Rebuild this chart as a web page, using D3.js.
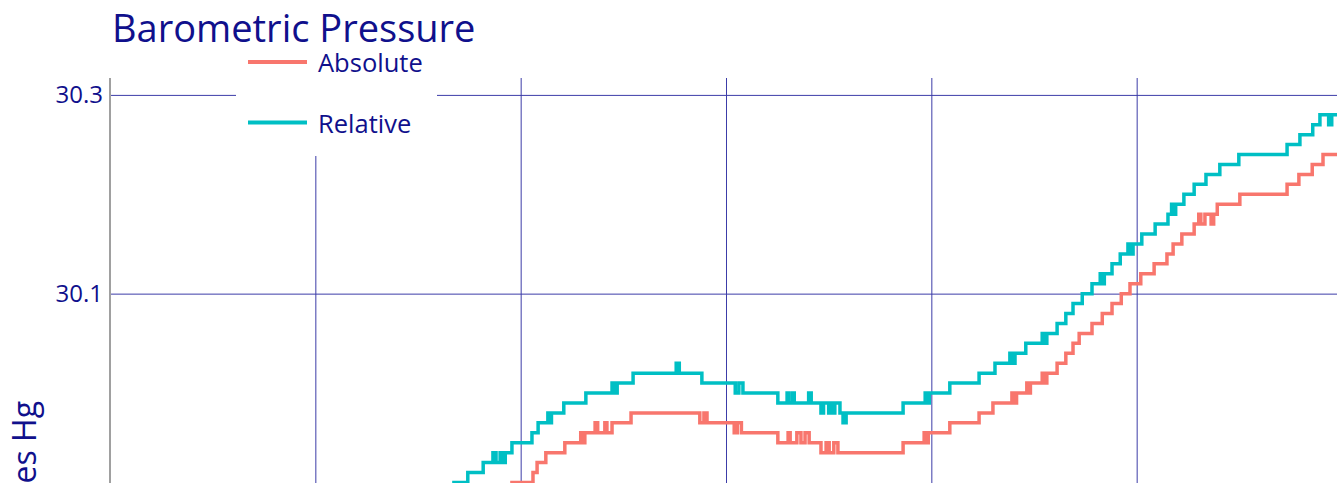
<!DOCTYPE html>
<html>
<head>
<meta charset="utf-8">
<script src="https://cdn.jsdelivr.net/npm/d3@7"></script>
<style>
body { margin:0; overflow:hidden; background:#ffffff; }
</style>
</head>
<body>
<div id="chart"></div>
<script>
//colors
var textColor = "#10108c";
var gridColor = "#3c3ca8";
var axisColor = "#a0a0a0";

// series names and colours for the legend
var seriesNames = ["Absolute", "Relative"];
var seriesColors = ["#F8766D", "#00BFC4"];

// y ticks (inches Hg) and x grid ticks (hours)
var yTicks = [30.1, 30.3];
var xTicks = [4, 8, 12, 16, 20, 24];

// relative pressure, step changes: hour, value
var relTime = [0,0.8,1.5,2.3,3.0,3.8,4.5,5.1,5.6,6.0,6.3,
    6.70,6.97,7.27,7.46,7.52,7.60,7.64,7.70,7.83,8.22,8.34,8.53,8.55,8.60,8.84,9.27,9.78,9.82,9.88,10.19,
    11.03,11.09,11.53,12.18,12.25,12.33,13.01,13.19,13.23,13.30,13.33,13.61,13.66,13.85,13.90,14.00,14.05,
    14.08,14.12,14.22,14.28,14.34,15.45,15.88,15.92,15.96,16.36,16.93,17.24,17.53,17.58,17.63,17.84,18.16,
    18.20,18.25,18.45,18.62,18.76,18.94,19.13,19.29,19.33,19.37,19.52,19.68,19.83,19.88,19.93,20.10,20.36,
    20.61,20.68,20.72,20.76,20.92,21.12,21.35,21.62,21.99,22.93,23.18,23.43,23.57,23.74,23.80,24];
var relValue = [29.66,29.69,29.71,29.74,29.77,29.80,29.83,29.85,29.87,29.89,29.90,
    29.91,29.92,29.93,29.94,29.93,29.94,29.93,29.94,29.95,29.96,29.97,29.98,29.97,29.98,29.99,30.00,30.01,30.00,30.01,30.02,
    30.03,30.02,30.01,30.00,30.01,30.00,29.99,30.00,29.99,30.00,29.99,30.00,29.99,29.98,29.99,29.98,29.99,
    29.98,29.99,29.98,29.97,29.98,29.99,30.00,29.99,30.00,30.01,30.02,30.03,30.04,30.03,30.04,30.05,30.06,
    30.05,30.06,30.07,30.08,30.09,30.10,30.11,30.12,30.11,30.12,30.13,30.14,30.15,30.14,30.15,30.16,30.17,
    30.18,30.19,30.18,30.19,30.20,30.21,30.22,30.23,30.24,30.25,30.26,30.27,30.28,30.27,30.28,30.28];

// absolute pressure, step changes: hour, value
var absTime = [0,0.9,1.7,2.5,3.3,4.1,4.9,5.6,6.2,6.8,7.3,7.6,
    7.83,8.24,8.32,8.49,8.86,9.17,9.21,9.25,9.45,9.50,9.64,9.68,9.78,10.15,11.49,11.57,11.63,12.16,12.22,12.30,
    13.01,13.21,13.25,13.38,13.46,13.54,13.62,13.85,13.95,14.01,14.10,14.18,15.45,15.86,15.90,15.94,16.36,
    16.93,17.20,17.57,17.61,17.66,17.86,17.89,17.93,18.16,18.20,18.25,18.45,18.62,18.76,18.88,19.13,19.33,
    19.52,19.70,19.87,20.08,20.34,20.59,20.71,20.88,21.12,21.21,21.25,21.33,21.45,21.50,21.57,22.01,22.93,
    23.16,23.42,23.63,24];
var absValue = [29.62,29.65,29.67,29.70,29.73,29.76,29.79,29.82,29.84,29.87,29.89,29.90,
    29.91,29.92,29.93,29.94,29.95,29.96,29.95,29.96,29.97,29.96,29.97,29.96,29.97,29.98,29.97,29.98,29.97,29.96,29.97,29.96,
    29.95,29.96,29.95,29.96,29.95,29.96,29.95,29.94,29.95,29.94,29.95,29.94,29.95,29.96,29.95,29.96,29.97,
    29.98,29.99,30.00,29.99,30.00,30.01,30.00,30.01,30.02,30.01,30.02,30.03,30.04,30.05,30.06,30.07,30.08,
    30.09,30.10,30.11,30.12,30.13,30.14,30.15,30.16,30.17,30.18,30.17,30.18,30.17,30.18,30.19,30.20,30.21,
    30.22,30.23,30.24,30.24];

function drawChart(){
    var w = 1400;
    var h = 960;
    var left = 110, right = 1342, top = 78, bottom = 870;

    var svg = d3.select("#chart")
                .append("svg")
                .attr("width", w)
                .attr("height", h)
                .style("font-family", "'Open Sans', sans-serif");

    var x = d3.scaleLinear().domain([0, 24]).range([left, right]);
    var y = d3.scaleLinear().domain([29.52, 30.317]).range([bottom, top]);

    //horizontal grid + y tick labels
    var yAxis = svg.append("g")
                .attr("transform", "translate(" + left + ",0)")
                .call(d3.axisLeft(y)
                        .tickValues(yTicks)
                        .tickSize(-(right - left))
                        .tickPadding(7)
                        .tickFormat(d3.format(".1f")));
    yAxis.select(".domain").remove();
    yAxis.selectAll("line").attr("stroke", gridColor).attr("stroke-width", 1);
    yAxis.selectAll("text")
        .attr("fill", textColor)
        .style("font-size", "24px")
        .style("font-family", "'Open Sans', sans-serif");

    //vertical grid
    var xAxis = svg.append("g")
                .attr("transform", "translate(0," + top + ")")
                .call(d3.axisTop(x)
                        .tickValues(xTicks)
                        .tickSize(-(bottom - top))
                        .tickFormat(""));
    xAxis.select(".domain").remove();
    xAxis.selectAll("line").attr("stroke", gridColor).attr("stroke-width", 1);

    //left axis line
    svg.append("line")
        .attr("x1", x(0)).attr("x2", x(0))
        .attr("y1", top).attr("y2", bottom)
        .attr("stroke", axisColor)
        .attr("stroke-width", 2);

    //series
    var line = d3.line()
                .x(function(d){ return x(d[0]); })
                .y(function(d){ return y(d[1]); })
                .curve(d3.curveStepAfter);

    var series = [
        absTime.map(function(t, i){ return [t, absValue[i]]; }),
        relTime.map(function(t, i){ return [t, relValue[i]]; })
    ];

    svg.append("g").selectAll("path")
        .data(series)
        .enter()
        .append("path")
        .attr("d", line)
        .attr("fill", "none")
        .attr("stroke", function(d, i){ return seriesColors[i]; })
        .attr("stroke-width", 3.5)
        .attr("stroke-linejoin", "miter");

    //legend with white backdrop
    var legend = svg.append("g");
    legend.append("rect")
        .attr("x", 236).attr("y", 40)
        .attr("width", 201).attr("height", 116)
        .attr("fill", "#ffffff");
    var items = legend.selectAll("g.item")
        .data(seriesNames)
        .enter()
        .append("g")
        .attr("class", "item")
        .attr("transform", function(d, i){ return "translate(248," + (62 + i * 60.5) + ")"; });
    items.append("line")
        .attr("x1", 0).attr("x2", 59)
        .attr("y1", 0).attr("y2", 0)
        .attr("stroke", function(d, i){ return seriesColors[i]; })
        .attr("stroke-width", 4);
    items.append("text")
        .attr("x", 70)
        .attr("y", 10)
        .attr("fill", textColor)
        .style("font-size", "25.5px")
        .text(function(d){ return d; });

    //title
    svg.append("text")
        .attr("x", 112)
        .attr("y", 42)
        .attr("fill", textColor)
        .style("font-size", "38px")
        .text("Barometric Pressure");

    //y axis title
    svg.append("text")
        .attr("transform", "translate(36," + ((top + bottom) / 2) + ") rotate(-90)")
        .attr("text-anchor", "middle")
        .attr("fill", textColor)
        .style("font-size", "32px")
        .text("Inches Hg");
}

drawChart();
</script>
</body>
</html>
